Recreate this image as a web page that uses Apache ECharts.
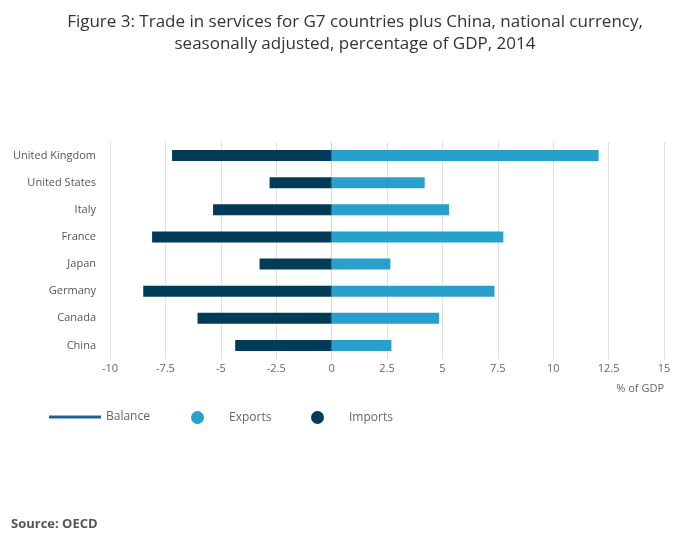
<!DOCTYPE html>
<html>
<head>
<meta charset="utf-8">
<script src="https://cdn.jsdelivr.net/npm/echarts@6/dist/echarts.min.js"></script>
<style>
  html, body { margin: 0; padding: 0; background: #fff; }
  #chart { width: 700px; height: 549px; }
</style>
</head>
<body>
<div id="chart"></div>
<script>
// categories from bottom to top
const countries = ["China", "Canada", "Germany", "Japan", "France", "Italy", "United States", "United Kingdom"];
const exportsData = [2.7, 4.85, 7.35, 2.65, 7.75, 5.3, 4.2, 12.05];
const importsData = [-4.35, -6.05, -8.5, -3.25, -8.1, -5.35, -2.8, -7.2];
const balanceData = [];
const xTicks = [-10, -7.5, -5, -2.5, 0, 2.5, 5, 7.5, 10, 12.5, 15];

const chart = echarts.init(document.getElementById("chart"));
const font = "Open Sans";

function legendFor(name, left, icon, w, h) {
  return {
    data: [name], left: left, top: 406, icon: icon,
    itemWidth: w, itemHeight: h, itemGap: 0,
    textStyle: { color: "#666", fontSize: 12, fontFamily: font, padding: [0, 0, 0, w > 20 ? 0 : 20] }
  };
}

chart.setOption({
  animation: false,
  title: [
    {
      text: "Figure 3: Trade in services for G7 countries plus China, national currency,\nseasonally adjusted, percentage of GDP, 2014",
      left: 350, top: 6,
      textAlign: "center",
      textStyle: { color: "#333", fontSize: 17, fontWeight: "normal", fontFamily: font, lineHeight: 22, align: "center" }
    },
    {
      text: "Source: OECD", left: 6, top: 513,
      textStyle: { color: "#555", fontSize: 13, fontWeight: "bold", fontFamily: font }
    }
  ],
  legend: [
    legendFor("Balance", 44, "path://M0,0 L52,0 L52,3 L0,3 Z", 52, 3),
    legendFor("Exports", 186, "circle", 13, 13),
    legendFor("Imports", 306, "circle", 13, 13)
  ],
  grid: { left: 110, right: 36, top: 142, bottom: 190 },
  xAxis: {
    type: "value", min: -10, max: 15, interval: 2.5,
    name: "% of GDP", nameLocation: "end", nameGap: 0,
    nameTextStyle: { color: "#666", fontSize: 11, fontFamily: font, align: "right", verticalAlign: "top", padding: [24, 0, 0, 0] },
    axisLine: { show: false }, axisTick: { show: false },
    axisLabel: { color: "#666", fontSize: 11, fontFamily: font, margin: 4,
      formatter: v => xTicks.includes(v) ? String(v) : "" },
    splitLine: { lineStyle: { color: "#e0e0e0" } }
  },
  yAxis: {
    type: "category", data: countries,
    axisLine: { lineStyle: { color: "#ccd6eb" } },
    axisTick: { show: true, length: 6, alignWithLabel: true, lineStyle: { color: "#ccd6eb" } },
    axisLabel: { color: "#555", fontSize: 11, fontFamily: font, margin: 14 }
  },
  series: [
    { name: "Balance", type: "line", data: balanceData, itemStyle: { color: "#206095" }, lineStyle: { color: "#206095" } },
    { name: "Exports", type: "bar", stack: "t", data: exportsData, barWidth: 11, itemStyle: { color: "#27a0cc" } },
    { name: "Imports", type: "bar", stack: "t", data: importsData, barWidth: 11, itemStyle: { color: "#003c57" } }
  ]
});
</script>
</body>
</html>
